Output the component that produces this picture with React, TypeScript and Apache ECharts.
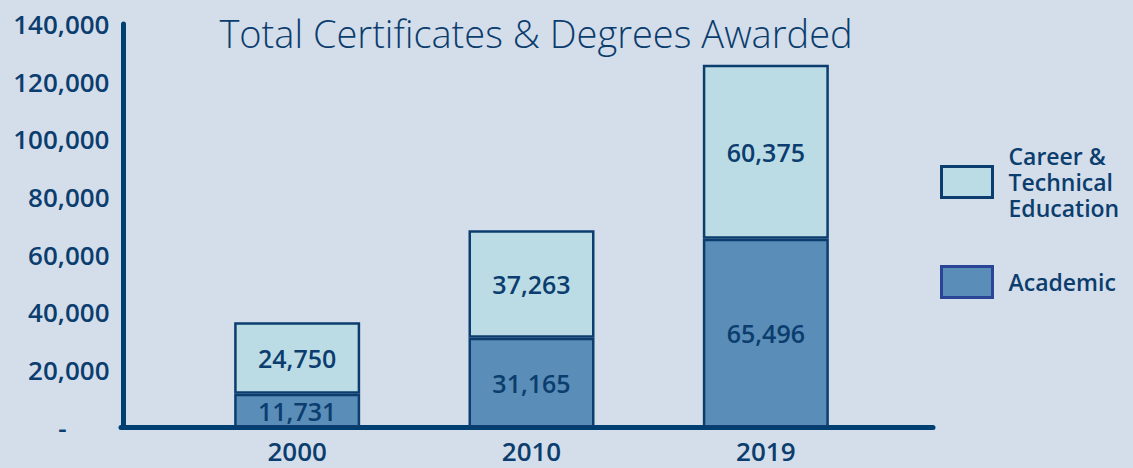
import React, { useEffect, useRef } from "react";
import * as echarts from "echarts";

const categories = ["2000", "2010", "2019"];
const academic = [11731, 31165, 65496];
const careerTechnical = [24750, 37263, 60375];
const yTicks = [0, 20000, 40000, 60000, 80000, 100000, 120000, 140000];

const NAVY = "#0b3d6e";
const BG = "#d4deea";
const FONT = "'Open Sans', 'Noto Sans', sans-serif";
const CTE_NAME = "Career & Technical Education";
const ACA_NAME = "Academic";

export default function App() {
  const ref = useRef<HTMLDivElement>(null);
  useEffect(() => {
    document.body.style.margin = "0";
    document.body.style.background = BG;
    if (!ref.current) return;
    const chart = echarts.init(ref.current, undefined, { renderer: "svg" });
    const fmt = (v: number) => v.toLocaleString("en-US");
    chart.setOption({
      animation: false,
      backgroundColor: BG,
      textStyle: { fontFamily: FONT },
      title: {
        text: "Total Certificates & Degrees Awarded",
        left: 531,
        textAlign: "center",
        top: 9,
        textStyle: { fontFamily: FONT, fontSize: 38, fontWeight: 300, color: NAVY },
      },
      legend: {
        orient: "vertical",
        left: 935,
        top: 138,
        itemWidth: 51,
        itemHeight: 31,
        itemGap: 44,
        icon: "rect",
        selectedMode: false,
        formatter: (n: string) => (n === CTE_NAME ? "Career &\nTechnical\nEducation" : n),
        textStyle: {
          fontFamily: FONT,
          fontSize: 23,
          fontWeight: 600,
          color: NAVY,
          lineHeight: 26,
          padding: [0, 0, 0, 11],
        },
        data: [
          { name: CTE_NAME, itemStyle: { color: "#bcdce5", borderColor: NAVY, borderWidth: 3 } },
          { name: ACA_NAME, itemStyle: { color: "#5a8db7", borderColor: "#2a4496", borderWidth: 3 } },
        ],
      },
      grid: [
        { left: 180, right: 250, top: 24, bottom: 40.5 },
        { left: 121, right: 200, top: 24, bottom: 40.5 },
      ],
      xAxis: [
        {
          type: "category",
          gridIndex: 0,
          data: categories,
          axisLine: { show: false },
          axisTick: { show: false },
          axisLabel: {
            margin: 10,
            fontFamily: FONT,
            fontSize: 26,
            fontWeight: 600,
            color: NAVY,
          },
        },
        {
          type: "value",
          gridIndex: 1,
          min: 0,
          max: 1,
          axisLine: { show: true, lineStyle: { color: "#003f72", width: 5 } },
          axisTick: { show: false },
          axisLabel: { show: false },
          splitLine: { show: false },
        },
      ],
      yAxis: [
        {
          type: "value",
          gridIndex: 0,
          min: 0,
          max: 140000,
          interval: 20000,
          offset: 56.5,
          axisLine: { show: true, lineStyle: { color: "#003f72", width: 5 } },
          axisTick: { show: false },
          splitLine: { show: false },
          axisLabel: {
            margin: 14,
            fontFamily: FONT,
            fontSize: 26,
            fontWeight: 600,
            color: NAVY,
            customValues: yTicks,
            formatter: (v: number) => (v === 0 ? "{d|-}" : fmt(v)),
            rich: {
              d: { fontFamily: FONT, fontSize: 26, fontWeight: 600, color: NAVY, padding: [0, 43, 0, 0] },
            },
          },
        },
        { type: "value", gridIndex: 1, min: 0, max: 1, show: false },
      ],
      series: [
        {
          name: ACA_NAME,
          type: "bar",
          stack: "total",
          data: academic,
          barWidth: 126,
          itemStyle: { color: "#5a8db7", borderColor: NAVY, borderWidth: 2.5 },
          label: {
            show: true,
            position: "inside",
            formatter: (p: any) => fmt(p.value),
            fontFamily: FONT,
            fontSize: 25,
            fontWeight: 600,
            color: NAVY,
          },
        },
        {
          name: CTE_NAME,
          type: "bar",
          stack: "total",
          data: careerTechnical,
          barWidth: 126,
          itemStyle: { color: "#bcdce5", borderColor: NAVY, borderWidth: 2.5 },
          label: {
            show: true,
            position: "inside",
            formatter: (p: any) => fmt(p.value),
            fontFamily: FONT,
            fontSize: 25,
            fontWeight: 600,
            color: NAVY,
          },
        },
      ],
    });
    return () => chart.dispose();
  }, []);
  return <div ref={ref} style={{ width: 1133, height: 468 }} />;
}
